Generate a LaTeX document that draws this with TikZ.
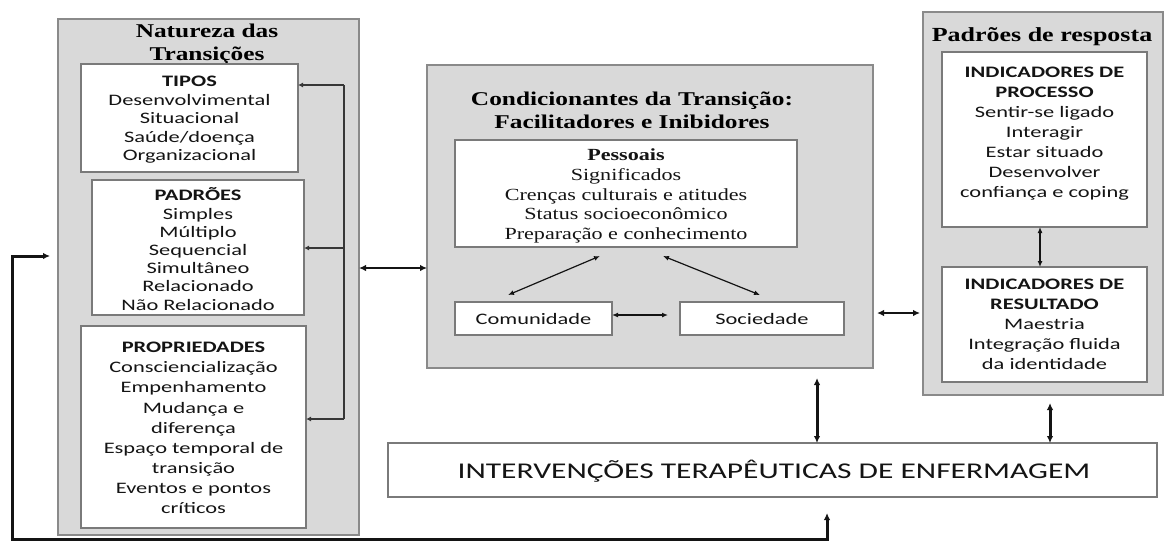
\documentclass[tikz,border=0pt]{standalone}
\usepackage{fontspec}
\setmainfont{Liberation Serif}[FakeStretch=1.3]
\newfontfamily\sansf{Carlito}[FakeStretch=1.4]
\usetikzlibrary{arrows.meta,calc}
\definecolor{panelgray}{HTML}{D9D9D9}
\definecolor{edgegray}{HTML}{8A8A8A}
\definecolor{boxgray}{HTML}{7A7A7A}
\definecolor{ink}{HTML}{141414}
\tikzset{
  panel/.style={draw=edgegray, line width=2pt, fill=panelgray, inner sep=0pt, outer sep=0pt},
  wbox/.style={draw=boxgray, line width=1.8pt, fill=white, inner sep=0pt, outer sep=0pt},
  stxt/.style={align=center, text=ink, inner sep=0pt, font=\sansf\fontsize{16}{#1}\selectfont},
  rtxt/.style={align=center, text=ink, inner sep=0pt, font=\fontsize{17}{19.75}\selectfont},
  ttl/.style={align=center, text=black, inner sep=0pt, font=\bfseries\fontsize{19.5}{23}\selectfont},
  plainline/.style={draw=ink!85, line width=1.6pt},
  thinarr/.style={draw=ink!85, line width=1.6pt, -{Latex[length=5pt,width=5pt]}},
  thinboth/.style={draw=ink, line width=1.2pt, {Latex[length=6pt,width=5pt]}-{Latex[length=6pt,width=5pt]}},
  bigboth/.style={draw=ink, line width=2.4pt, {Latex[length=7pt,width=6.5pt]}-{Latex[length=7pt,width=6.5pt]}},
}
\begin{document}
\begin{tikzpicture}[x=1pt,y=-1pt]
\useasboundingbox (0,0) rectangle (1165,542);
% panels
\node[panel, minimum width=301, minimum height=516] (nat) at (208.5,277) {};
\node[panel, minimum width=446, minimum height=303] (cond) at (650,216.5) {};
\node[panel, minimum width=240, minimum height=383] (resp) at (1043,203.5) {};
% titles
\node[ttl] (natT) at (207,44.5) {Natureza das\\Transições};
\node[ttl] (condT) at (632,110) {Condicionantes da Transição:\\Facilitadores e Inibidores};
\node[ttl, font=\bfseries\fontsize{20}{23}\selectfont] (respT) at (1042,37) {Padrões de resposta};
% left boxes
\node[wbox, minimum width=217, minimum height=108] (tipos) at (189.5,118) {};
\node[stxt=18.5] (tiposT) at (189.5,120) {\textbf{TIPOS}\\Desenvolvimental\\Situacional\\Saúde/doença\\Organizacional};
\node[wbox, minimum width=212, minimum height=135] (padroes) at (198,247.5) {};
\node[stxt=18.2] (padroesT) at (198,249) {\textbf{PADRÕES}\\Simples\\Múltiplo\\Sequencial\\Simultâneo\\Relacionado\\Não Relacionado};
\node[wbox, minimum width=225, minimum height=202] (props) at (193.5,427) {};
\node[stxt=20.1] (propsT) at (193.5,428) {\textbf{PROPRIEDADES}\\Consciencialização\\Empenhamento\\Mudança e\\diferença\\Espaço temporal de\\transição\\Eventos e pontos\\críticos};
% middle boxes
\node[wbox, minimum width=342, minimum height=107] (pess) at (626,193.5) {};
\node[rtxt] (pessT) at (626,196) {\textbf{Pessoais}\\Significados\\Crenças culturais e atitudes\\Status socioeconômico\\Preparação e conhecimento};
\node[wbox, minimum width=157, minimum height=33] (com) at (533.5,318.5) {};
\node[stxt=19] (comT) at (533.5,319) {Comunidade};
\node[wbox, minimum width=164, minimum height=33] (soc) at (762,318.5) {};
\node[stxt=19] (socT) at (762,319) {Sociedade};
% right boxes
\node[wbox, minimum width=205, minimum height=175] (proc) at (1044.5,139.5) {};
\node[stxt=20] (procT) at (1044.5,134) {\textbf{INDICADORES DE}\\\textbf{PROCESSO}\\Sentir-se ligado\\Interagir\\Estar situado\\Desenvolver\\confiança e coping};
\node[wbox, minimum width=205, minimum height=115] (res) at (1044.5,324.5) {};
\node[stxt=20] (resT) at (1044.5,324) {\textbf{INDICADORES DE}\\\textbf{RESULTADO}\\Maestria\\Integração fluida\\da identidade};
% intervention box
\node[wbox, minimum width=769, minimum height=54] (interv) at (772.5,470) {};
\node[stxt=28, font=\sansf\fontsize{22.5}{27}\selectfont] (intervT) at (774,471) {INTERVENÇÕES TERAPÊUTICAS DE ENFERMAGEM};
% coordinates
\coordinate (b1) at (344,85);
\coordinate (b2) at (344,248);
\coordinate (b3) at (344,419);
\coordinate (y268) at (0,268);
\coordinate (y313) at (0,313);
\coordinate (y315) at (0,315);
\coordinate (x817) at (817,0);
\coordinate (x1050) at (1050,0);
\coordinate (x1040) at (1040,0);
\coordinate (x827) at (827,0);
\coordinate (pc1) at (600,256);
\coordinate (pc2) at (508,295);
\coordinate (ps1) at (663,256);
\coordinate (ps2) at (760,295);
\coordinate (fbL) at (50,256);
\coordinate (fbC) at (12,539);
% bracket in left panel
\draw[plainline] (b1) -- (b3);
\draw[thinarr] (b1) -- (tipos.east |- b1);
\draw[thinarr] (b2) -- (padroes.east |- b2);
\draw[thinarr] (b3) -- (props.east |- b3);
% middle arrows
\draw[thinboth] (pc1) -- (pc2);
\draw[thinboth] (ps1) -- (ps2);
\draw[thinboth, shorten >=12pt] (com.east |- y315) -- (soc.west |- y315);
\draw[thinboth] (proc.south -| x1040) -- (res.north -| x1040);
% connectors between panels
\draw[bigboth] (nat.east |- y268) -- (cond.west |- y268);
\draw[bigboth, shorten <=4pt, shorten >=3pt] (cond.east |- y313) -- (resp.west |- y313);
\draw[bigboth, line width=3pt, shorten <=10pt] (cond.south -| x817) -- (interv.north -| x817);
\draw[bigboth, line width=3pt, shorten <=8pt] (resp.south -| x1050) -- (interv.north -| x1050);
% feedback loop
\draw[bigboth, line width=3pt, shorten >=16pt] (fbL) -| (fbC) -| (interv.south -| x827);
\end{tikzpicture}
\end{document}
